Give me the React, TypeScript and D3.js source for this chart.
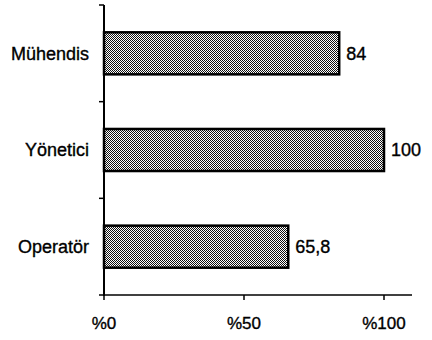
import React from "react";
import * as d3 from "d3";

// Relative values by occupational group (Yönetici = 100)
const categories = ["Mühendis", "Yönetici", "Operatör"];
const values = [84, 100, 65.8];
const tickValues = [0, 50, 100];
const tickLabels = ["%0", "%50", "%100"];

const W = 432;
const H = 340;

export default function App() {
  const x = d3.scaleLinear().domain([0, 110]).range([104, 412]);
  const y = d3
    .scaleBand<string>()
    .domain(categories)
    .range([5, 295])
    .paddingInner(0.565)
    .paddingOuter(0.2825);

  const step = y.step();
  const [y0, y1] = y.range();
  const boundaries = d3.range(categories.length + 1).map((i) => y0 + i * step);
  const fmt = (v: number) => String(v).replace(".", ",");
  const font = "'Liberation Sans', Arial, sans-serif";
  const textStyle = { stroke: "#000", strokeWidth: 0.35 };

  return (
    <svg
      width={W}
      height={H}
      viewBox={`0 0 ${W} ${H}`}
      style={{ position: "absolute", left: 0, top: 0, background: "#fff" }}
    >
      <defs>
        <pattern id="dots" width={2} height={2} patternUnits="userSpaceOnUse">
          <rect width={2} height={2} fill="#fff" />
          <rect x={0} y={0} width={1} height={1} fill="#111" />
          <rect x={1} y={1} width={1} height={1} fill="#111" />
        </pattern>
      </defs>

      {/* bars */}
      {categories.map((c, i) => (
        <rect
          key={c}
          x={x(0)}
          y={y(c)!}
          width={x(values[i]) - x(0)}
          height={y.bandwidth()}
          fill="url(#dots)"
          stroke="#000"
          strokeWidth={2.5}
        />
      ))}

      {/* value labels */}
      {categories.map((c, i) => (
        <text
          key={c + "-v"}
          x={x(values[i]) + 7}
          y={y(c)! + y.bandwidth() / 2}
          dy="0.35em"
          fontFamily={font}
          fontSize={18}
          fill="#000"
          style={textStyle}
        >
          {fmt(values[i])}
        </text>
      ))}

      {/* category labels */}
      {categories.map((c) => (
        <text
          key={c + "-l"}
          x={89}
          y={y(c)! + y.bandwidth() / 2}
          dy="0.35em"
          textAnchor="end"
          fontFamily={font}
          fontSize={18}
          fill="#000"
          style={textStyle}
        >
          {c}
        </text>
      ))}

      {/* y axis */}
      <line x1={x(0)} x2={x(0)} y1={y0} y2={y1 + 1} stroke="#000" strokeWidth={2} />
      {boundaries.map((b, i) => (
        <line key={"yt" + i} x1={x(0) - 5} x2={x(0)} y1={b} y2={b} stroke="#000" strokeWidth={1.5} />
      ))}

      {/* x axis */}
      <line x1={x(0) - 1} x2={x(110)} y1={y1} y2={y1} stroke="#000" strokeWidth={1.5} />
      {tickValues.map((t, i) => (
        <g key={"xt" + t}>
          <line x1={x(t)} x2={x(t)} y1={y1} y2={y1 + 5} stroke="#000" strokeWidth={1.5} />
          <text
            x={x(t)}
            y={y1 + 28}
            dy="0.35em"
            textAnchor="middle"
            fontFamily={font}
            fontSize={17}
            fill="#000"
            style={textStyle}
          >
            {tickLabels[i]}
          </text>
        </g>
      ))}
    </svg>
  );
}
